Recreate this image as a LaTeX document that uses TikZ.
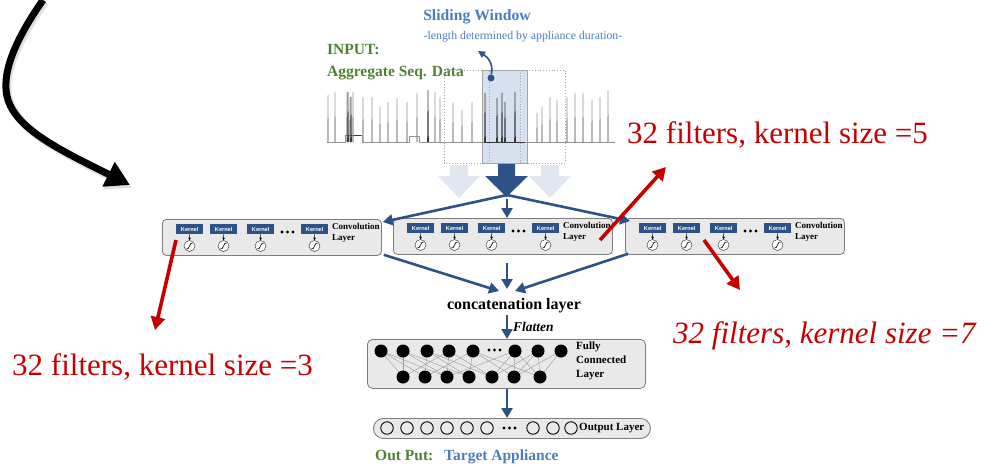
\documentclass[tikz,border=0pt]{standalone}
\usepackage{fontspec}
\setmainfont{Liberation Serif}
\newfontfamily\kernelfont{Liberation Sans}
\usetikzlibrary{arrows.meta,calc}

\definecolor{navy}{RGB}{44,82,135}
\definecolor{skyblue}{RGB}{74,126,187}
\definecolor{leaf}{RGB}{80,128,50}
\definecolor{crimson}{RGB}{196,0,0}
\definecolor{panel}{RGB}{233,233,233}
\definecolor{panelrim}{RGB}{125,125,125}
\definecolor{winfill}{RGB}{214,224,238}
\definecolor{ghost}{RGB}{226,231,239}

\tikzset{
  convbox/.style={draw=panelrim, fill=panel, rounded corners=4pt, line width=0.8pt,
    minimum width=219pt, minimum height=36pt, inner sep=0pt, anchor=north west},
  kernelbox/.style={fill=navy, text=white, font=\kernelfont\bfseries\fontsize{5.6}{6}\selectfont,
    minimum width=27pt, minimum height=10pt, inner sep=0pt, anchor=north west},
  gauge/.style={circle, draw=black!75, fill=white, line width=0.5pt, minimum size=11pt, inner sep=0pt},
  flow/.style={navy, line width=2.6pt, -{Triangle[length=10pt,width=11pt]}},
  thinflow/.style={black, line width=0.5pt, -{Triangle[length=2.5pt,width=2.5pt]}},
  redarrow/.style={crimson, line width=3.6pt, -{Triangle[length=13pt,width=14pt]}},
  neuron/.style={circle, fill=black, minimum size=13pt, inner sep=0pt},
  outneuron/.style={circle, draw=black, line width=0.9pt, minimum size=12.5pt, inner sep=0pt},
  dot/.style={circle, fill=black, minimum size=3.2pt, inner sep=0pt},
  boxlabel/.style={font=\bfseries\fontsize{9}{11}\selectfont, align=left, anchor=north west, inner sep=0pt},
  note/.style={crimson, font=\fontsize{31}{33}\selectfont, anchor=base west, inner sep=0pt},
  trace/.style={black!42, line width=0.5pt},
  darktrace/.style={black!78, line width=0.6pt},
}

\begin{document}
\begin{tikzpicture}[x=1pt, y=-1pt]
\useasboundingbox (0,0) rectangle (992,466);

% ---------- curved pointer on the left ----------
\draw[black!12, line width=8pt, -{Triangle[length=25pt,width=27pt]}]
  (45,2) .. controls (17,42) and (1,77) .. (10,102) .. controls (20,132) and (62,152) .. (132,188);
\draw[black, line width=7pt, -{Triangle[length=24pt,width=26pt]}]
  (43,0) .. controls (15,40) and (0,75) .. (8,100) .. controls (18,130) and (60,150) .. (130,185);

% ---------- titles ----------
\node[skyblue, font=\bfseries\fontsize{15.7}{17}\selectfont] (swTitle) at (477,17) {Sliding Window};
\node[skyblue, font=\fontsize{11.8}{13}\selectfont] (swNote) at (523,37) {-length determined by appliance duration-};
\node[leaf, font=\bfseries\fontsize{15.5}{17}\selectfont, anchor=west, inner sep=0pt] (inTitle) at (327,50) {INPUT:};
\node[leaf, font=\bfseries\fontsize{15.5}{17}\selectfont, anchor=west, inner sep=0pt] (inData) at (327,73) {Aggregate Seq. Data};

% ---------- sliding window and aggregate signal ----------
\node[draw=black!35, line width=1.3pt, fill=winfill, minimum width=45pt, minimum height=93pt,
  inner sep=0pt, anchor=north west] (win) at (482,70) {};

\draw[trace]
  (327,142) -- (345,142) -- (345,135) -- (362,135) -- (362,142) -- (409,142) -- (409,136)
  -- (419,136) -- (419,142) -- (615,142);
\draw[darktrace] (346,135) -- (361,135);
\draw[darktrace] (484,142) -- (525,142);
\foreach \x/\t in {328/95,335/92,347/92,350/97,353/92,363/97,372/97,380/107,388/102,397/98,
  407/102,417/93,435/92,440/97,453/103,462/110,472/102,537/113,542/107,550/97,
  557/100,567/97,575/93,583/93,592/100,600/97,608/90}
  \draw[trace] (\x-0.5,142) -- (\x,\t) -- (\x+0.5,142);
\foreach \x/\t in {348/92,351/97,428/90,485/93,497/98,502/93,505/102,515/92}
  \draw[darktrace] (\x-0.5,142) -- (\x,\t) -- (\x+0.5,142);

\draw[black!35, dotted, line width=0.8pt] (444,70) rectangle (489,163);
\draw[black!35, dotted, line width=0.8pt] (520,70) rectangle (565,163);

\node[circle, fill=navy, minimum size=7pt, inner sep=0pt] (winDot) at (491,78) {};
\draw[navy, line width=1.6pt, -{Triangle[length=7pt,width=7pt]}]
  (winDot) .. controls (493,64) and (489,58) .. (478,51);

% ---------- shift arrows ----------
\fill[ghost] (450,165) -- (468,165) -- (468,176) -- (480,176) -- (459,198) -- (438,176) -- (450,176) -- cycle;
\fill[ghost] (541,165) -- (559,165) -- (559,176) -- (571,176) -- (550,198) -- (529,176) -- (541,176) -- cycle;
\fill[navy] (498,164) -- (515,164) -- (515,176) -- (528,176) -- (506.5,197) -- (485,176) -- (498,176) -- cycle;
\coordinate (fork) at (507,195);

% ---------- convolution layers ----------
\foreach \b/\x/\y in {convL/162/219, convM/393/218, convR/625/218}{
  \node[convbox] (\b) at (\x,\y) {};
  \foreach \i/\dx in {1/14, 2/48, 3/85, 4/139}{
    \node[kernelbox] (\b-k\i) at (\x+\dx,\y+5) {Kernel};
    \node[gauge] (\b-g\i) at (\x+\dx+13.5,\y+27) {};
    \draw[black, line width=0.6pt] ($(\b-g\i)+(-3.2,3)$) -- ($(\b-g\i)+(-1.4,2.6)$)
      -- ($(\b-g\i)+(1.4,-2.6)$) -- ($(\b-g\i)+(3.2,-3)$);
    \draw[thinflow] (\b-k\i.south) -- (\b-g\i.north);
  }
  \foreach \j in {0,1,2} \node[dot] at (\x+120+\j*5.5,\y+13) {};
  \node[boxlabel] (\b-lbl) at (\x+170,\y+4) {Convolution\\Layer};
}

% split from the window into the three branches
\draw[flow] (fork) -- ($(convL.north east)+(1,3)$);
\draw[flow] ($(fork)+(0,4)$) -- (fork |- convM.north);
\draw[flow] (fork) -- ($(convR.north west)+(5,3)$);

% ---------- concatenation ----------
\node[font=\bfseries\fontsize{16}{18}\selectfont] (concat) at (514,306) {concatenation layer};
\coordinate (merge) at (507,292);
\draw[flow] ($(convL.south east)+(2,-1)$) -- ($(merge)+(-8,-1)$);
\draw[flow] (507,263) -- ($(merge)+(0,-3)$);
\draw[flow] ($(convR.south west)+(3,-1)$) -- ($(merge)+(8,-1)$);

% ---------- fully connected layer ----------
\node[draw=panelrim, fill=panel, rounded corners=5pt, line width=0.8pt,
  minimum width=278pt, minimum height=49pt, inner sep=0pt, anchor=north west] (fc) at (367,339) {};
\coordinate (spine) at (507,315);
\draw[flow] (spine) -- (fc.north -| spine);
\node[font=\bfseries\itshape\fontsize{13.5}{15}\selectfont, anchor=base west, inner sep=0pt] (flat) at (513,331) {Flatten};

\foreach \i/\x in {1/381,2/403,3/427,4/449,5/473,6/515,7/538,8/561}
  \coordinate (t\i) at (\x,351);
\foreach \i/\x in {1/403,2/425,3/447,4/469,5/492,6/514,7/540}
  \coordinate (b\i) at (\x,377);
\foreach \s/\e in {1/1,1/2,1/3,2/1,2/3,2/4,3/2,3/4,3/5,4/1,4/3,4/5,5/2,5/4,5/6,
  6/5,6/6,6/7,7/5,7/6,7/7,8/6,8/7,6/3,5/7}
  \draw[black!40, line width=0.4pt] (t\s) -- (b\e);
\foreach \i in {1,...,8} \node[neuron] (fcT\i) at (t\i) {};
\foreach \i in {1,...,7} \node[neuron] (fcB\i) at (b\i) {};
\foreach \j in {0,1,2} \node[dot] at (489+\j*5.5,350) {};
\node[boxlabel, font=\bfseries\fontsize{11}{14}\selectfont] (fcLbl) at (576,342) {Fully\\Connected\\Layer};

% ---------- output layer ----------
\node[draw=panelrim, fill=panel, rounded corners=10pt, line width=0.9pt,
  minimum width=277pt, minimum height=20pt, inner sep=0pt, anchor=north west] (outL) at (373,418) {};
\draw[flow] (fc.south -| spine) -- (outL.north -| spine);
\foreach \i/\x in {1/387,2/407,3/427,4/447,5/467,6/487,7/533,8/553,9/571}
  \node[outneuron] (o\i) at (\x,428) {};
\foreach \j in {0,1,2} \node[dot] at (504+\j*5.5,428) {};
\node[font=\bfseries\fontsize{11}{12}\selectfont, anchor=west, inner sep=0pt] (outLbl) at (579,428) {Output Layer};

\node[leaf, font=\bfseries\fontsize{15.5}{17}\selectfont, anchor=base west, inner sep=0pt] (outA) at (375,460) {Out Put:};
\node[skyblue, font=\bfseries\fontsize{15.5}{17}\selectfont, anchor=base west, inner sep=0pt] (outB) at (444,460) {Target Appliance};

% ---------- filter annotations ----------
\node[note] (n5) at (627,143) {32 filters, kernel size =5};
\node[note, font=\itshape\fontsize{31}{33}\selectfont] (n7) at (673,343) {32 filters, kernel size =7};
\node[note] (n3) at (12,375) {32 filters, kernel size =3};

\coordinate (a5s) at (600,240);
\coordinate (a5e) at (666,167);
\coordinate (a7s) at (704,240);
\coordinate (a7e) at (740,290);
\coordinate (a3s) at (176,240);
\coordinate (a3e) at (155,330);
\draw[redarrow] (a5s) -- (a5e);
\draw[redarrow] (a7s) -- (a7e);
\draw[redarrow] (a3s) -- (a3e);
\end{tikzpicture}
\end{document}
